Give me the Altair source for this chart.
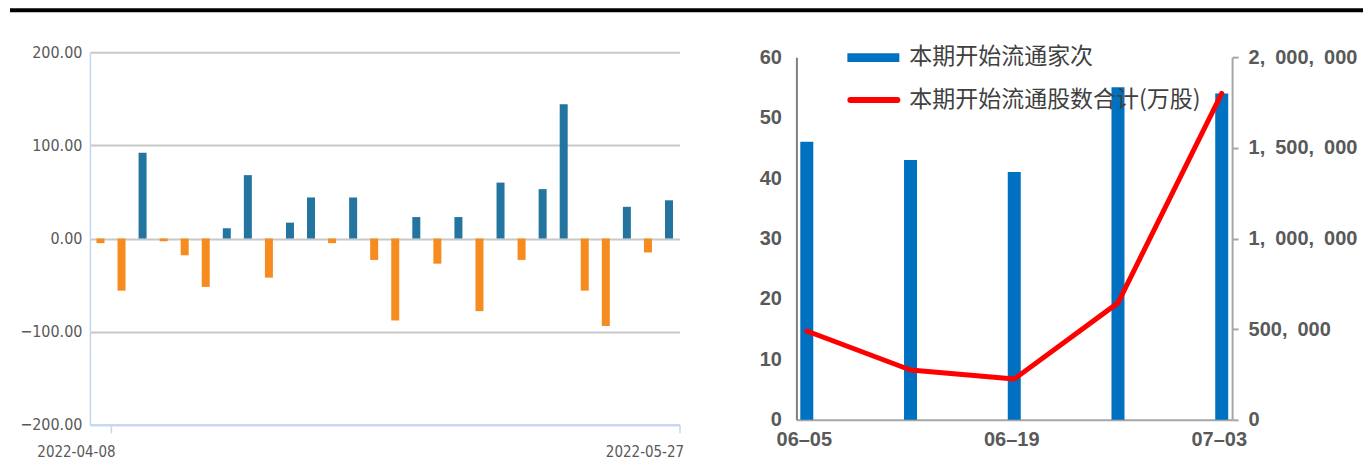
import altair as alt
import pandas as pd

# ---- data: left panel (daily net flow) ----
flow_values = [-5, -56, 92, -3, -18, -52, 11, 68, -42, 17, 44, -5, 44, -23,
               -88, 23, -27, 23, -78, 60, -23, 53, 144, -56, -94, 34, -15, 41]
flow_tick_labels = ["2022-04-08", "2022-05-27"]
flow_y_ticks = [-200, -100, 0, 100, 200]

# ---- data: right panel (weekly unlocks) ----
week_labels = ["06-05", "06-12", "06-19", "06-26", "07-03"]
week_shown = ["06-05", "06-19", "07-03"]
listing_counts = [46, 43, 41, 55, 54]
listing_shares = [490000, 275000, 225000, 645000, 1800000]
count_ticks = [0, 10, 20, 30, 40, 50, 60]
share_ticks = [0, 500000, 1000000, 1500000, 2000000]
legend_labels = ["本期开始流通家次", "本期开始流通股数合计(万股)"]

NARROW = "Liberation Sans Narrow, Arial Narrow, DejaVu Sans Condensed, sans-serif"
BOLD_SANS = "Liberation Sans, Noto Sans CJK SC, sans-serif"
CJK = "Noto Sans CJK SC, sans-serif"
GREY_TXT = "#595959"

# ---------------- left panel ----------------
df_flow = pd.DataFrame({"idx": list(range(len(flow_values))), "value": flow_values})
df_flow["sign"] = ["pos" if v >= 0 else "neg" for v in flow_values]

last_idx = len(flow_values) - 1
label_expr = f"datum.value == 0 ? '{flow_tick_labels[0]}' : '{flow_tick_labels[1]}'"

left_bars = alt.Chart(df_flow).mark_bar().encode(
    x=alt.X("idx:O",
            scale=alt.Scale(paddingInner=0.62, paddingOuter=0.31),
            axis=alt.Axis(values=[0, last_idx], labelExpr=label_expr, labelAngle=0,
                          title=None, grid=False,
                          domainColor="#c5d7ea", domainWidth=2,
                          tickColor="#c5d7ea", tickSize=8, tickWidth=1.5,
                          tickOffset=10.5, labelOffset=-35, labelPadding=12,
                          labelFont=NARROW, labelFontSize=15, labelColor=GREY_TXT)),
    y=alt.Y("value:Q",
            scale=alt.Scale(domain=[-200, 200]),
            axis=alt.Axis(values=flow_y_ticks, format=".2f", title=None,
                          grid=True,
                          gridColor={"condition": {"test": "datum.value === -200", "value": "#c5d7ea"},
                                     "value": "#c8c8c8"},
                          gridWidth=2,
                          domainColor="#c5d7ea", domainWidth=1.5, ticks=False,
                          labelPadding=8, labelFont=NARROW, labelFontSize=16,
                          labelColor=GREY_TXT)),
    color=alt.Color("sign:N",
                    scale=alt.Scale(domain=["pos", "neg"], range=["#23759f", "#f68b1f"]),
                    legend=None),
)

top_rule = alt.Chart(pd.DataFrame({"k": [0]})).mark_rule(color="black", strokeWidth=4).encode(
    x=alt.value(-80), x2=alt.value(1274), y=alt.value(-42)
)

left = alt.layer(left_bars, top_rule).properties(width=590, height=373)

# ---------------- right panel ----------------
df_week = pd.DataFrame({"week": week_labels, "count": listing_counts, "shares": listing_shares})

x_right = alt.X("week:O", sort=week_labels,
                scale=alt.Scale(type="point", padding=0.1),
                axis=alt.Axis(values=week_shown, labelAngle=0, title=None, ticks=False,
                              domainColor="#a6a6a6", domainWidth=2,
                              labelExpr="replace(datum.label, '-', '–')",
                              labelFont=BOLD_SANS, labelFontWeight="bold", labelFontSize=20,
                              labelColor=GREY_TXT, labelPadding=10, labelOffset=-3))

right_bars = alt.Chart(df_week).mark_bar(color="#0070c0", size=13).encode(
    x=x_right,
    y=alt.Y("count:Q", scale=alt.Scale(domain=[0, 60]),
            axis=alt.Axis(values=count_ticks, title=None, ticks=False, grid=False,
                          domainColor="#808080", domainWidth=2, labelPadding=15,
                          labelFont=BOLD_SANS, labelFontWeight="bold", labelFontSize=20,
                          labelColor=GREY_TXT)),
)

right_line = alt.Chart(df_week).mark_line(color="#ff0000", strokeWidth=5,
                                          strokeCap="round", strokeJoin="round").encode(
    x=x_right,
    y=alt.Y("shares:Q", scale=alt.Scale(domain=[0, 2000000]),
            axis=alt.Axis(orient="right", values=share_ticks, format=",.0f", title=None,
                          labelExpr="replace(datum.label, /,/g, ',\u2002')",
                          grid=False, tickSize=6, tickColor="#a6a6a6", tickWidth=2,
                          domainColor="#a6a6a6", domainWidth=2, labelPadding=10,
                          labelFont=BOLD_SANS, labelFontWeight="bold", labelFontSize=20,
                          labelColor=GREY_TXT)),
)

leg_base = alt.Chart(pd.DataFrame({"label": legend_labels, "row": [0, 1]}))
leg_rect = leg_base.transform_filter("datum.row == 0").mark_rect(color="#0070c0").encode(
    x=alt.value(51), x2=alt.value(103), y=alt.value(-4), y2=alt.value(5))
leg_line = leg_base.transform_filter("datum.row == 1").mark_rule(
    color="#ff0000", strokeWidth=6, strokeCap="round").encode(
    x=alt.value(54), x2=alt.value(101), y=alt.value(43))
leg_text1 = leg_base.transform_filter("datum.row == 0").mark_text(
    align="left", baseline="middle", font=CJK, fontSize=23, color="#404040").encode(
    text="label:N", x=alt.value(113), y=alt.value(0))
leg_text2 = leg_base.transform_filter("datum.row == 1").mark_text(
    align="left", baseline="middle", font=CJK, fontSize=23, color="#404040").encode(
    text="label:N", x=alt.value(113), y=alt.value(43))

right = alt.layer(right_bars, right_line, leg_rect, leg_line, leg_text1, leg_text2).resolve_scale(
    y="independent").properties(width=436, height=363)

chart = alt.hconcat(left, right, spacing=117, bounds="flush", center=True).properties(
    padding={"left": 8, "top": 8, "right": 0, "bottom": 0},
    background="white",
).configure_view(stroke=None)

chart.save("out.html", embed_options={"renderer": "svg", "actions": False})
